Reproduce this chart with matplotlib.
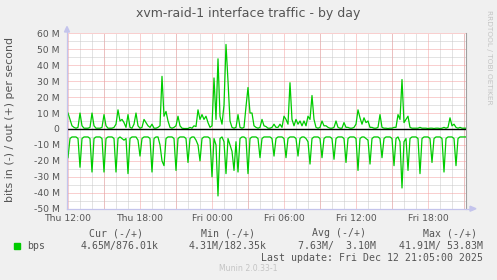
import numpy as np
import pandas as pd
import matplotlib
matplotlib.use("Agg")
import matplotlib.pyplot as plt
import matplotlib.dates as mdates
from matplotlib.ticker import MultipleLocator, FuncFormatter

# ---- data (Mbit/s, 10-minute samples starting Thu 2025-12-11 12:00) ----
start_time = "2025-12-11 12:00"
out_mbps = [
    10, 6, 2, 1, 0.5, 1, 10, 2, 0.5, 0.5,
    0.5, 1, 10, 2, 0.5, 0.5, 0.5, 1, 9, 2,
    0.5, 0.5, 0.5, 1, 3, 12, 5, 6, 4, 1,
    9, 1, 0.5, 3, 10, 2, 0.5, 1, 6, 4,
    2, 1, 3, 0.5, 0.5, 1, 2, 33, 8, 11,
    5, 1, 0.5, 1, 2, 8, 2, 0.5, 0.3, 0.3,
    0.3, 1, 0.5, 2, 1.5, 12, 6, 9, 6, 8,
    4, 1, 2, 32, 6, 44, 8, 3, 15, 53,
    30, 5, 1, 0.5, 1, 9, 1, 0.5, 1, 14,
    26, 10, 10, 2, 1, 0.5, 1, 6, 2, 1.5,
    0.5, 0.5, 1, 3, 1, 1, 3, 1, 8, 6,
    3, 29, 6, 2, 6, 3, 5, 2, 5, 2,
    8, 6, 21, 6, 1, 0.5, 1, 5, 2, 2,
    1, 0.5, 0.5, 1, 5, 1, 0.5, 0.5, 4, 1,
    1, 0.5, 0.5, 1, 3, 12, 7, 3, 7, 4,
    5, 1, 1, 0.5, 0.5, 1, 9, 1, 0.5, 0.5,
    0.3, 0.5, 0.5, 1, 1, 9, 6, 31, 4, 6,
    8, 1, 0.5, 0.5, 0.5, 0.5, 1, 0.5, 0.5, 0.5,
    0.3, 0.5, 0.5, 0.3, 0.5, 0.5, 0.3, 0.5, 1, 0.5,
    1, 7, 2, 3, 1, 0.5, 1, 0.5, 0.5, 0.5,
]
in_mbps = [
    18, 6, 5, 5, 5, 6, 24, 6, 5, 5,
    5, 6, 27, 6, 5, 5, 5, 6, 27, 6,
    5, 5, 5, 6, 27, 6, 5, 6, 7, 6,
    28, 6, 5, 5, 5, 7, 17, 6, 5, 5,
    5, 6, 27, 6, 5, 5, 10, 20, 23, 6,
    5, 5, 5, 6, 26, 6, 5, 5, 5, 6,
    21, 6, 5, 5, 7, 10, 20, 6, 5, 5,
    5, 6, 30, 6, 10, 42, 6, 5, 8, 28,
    6, 10, 14, 26, 8, 27, 6, 5, 5, 6,
    28, 6, 5, 5, 5, 6, 18, 6, 5, 5,
    5, 5, 6, 17, 6, 5, 5, 5, 6, 18,
    6, 5, 5, 5, 6, 17, 6, 5, 5, 6,
    8, 22, 6, 5, 5, 5, 6, 18, 6, 5,
    5, 5, 6, 19, 6, 5, 5, 5, 6, 21,
    6, 5, 5, 5, 6, 26, 6, 5, 5, 6,
    7, 22, 6, 5, 5, 5, 6, 18, 6, 5,
    5, 5, 6, 23, 6, 5, 8, 37, 8, 6,
    26, 6, 5, 5, 5, 6, 28, 6, 5, 5,
    5, 6, 21, 6, 5, 5, 5, 6, 27, 6,
    5, 5, 5, 6, 23, 6, 5, 5, 5, 5,
]
x_tick_labels = ["Thu 12:00", "Thu 18:00", "Fri 00:00", "Fri 06:00", "Fri 12:00", "Fri 18:00"]
title = "xvm-raid-1 interface traffic - by day"
ylabel = "bits in (-) / out (+) per second"
legend_name = "bps"
stat_headers = ["Cur (-/+)", "Min (-/+)", "Avg (-/+)", "Max (-/+)"]
stat_values = ["4.65M/876.01k", "4.31M/182.35k", "7.63M/  3.10M", "41.91M/ 53.83M"]
last_update = "Last update: Fri Dec 12 21:05:00 2025"
munin_ver = "Munin 2.0.33-1"
side_text = "RRDTOOL / TOBI OETIKER"

W, H = 497, 280
BG = "#F0F0F0"
GREEN = "#00CC00"
TXT = "#555555"

times = pd.date_range(start_time, periods=len(out_mbps), freq="10min")
t0 = pd.Timestamp(start_time)

fig = plt.figure(figsize=(W / 100, H / 100), dpi=100, facecolor=BG)

def fx(px):
    return px / W

def fy(py):
    return 1 - py / H

left, right, top, bottom = 67, 466, 33.3, 208.7
ax = fig.add_axes([fx(left), fy(bottom), fx(right - left), (bottom - top) / H])
ax.set_facecolor("white")

xmin = t0 - pd.Timedelta(minutes=5)
xmax = t0 + pd.Timedelta(minutes=int(round(398 / 12 * 60)))
ax.set_xlim(xmin, xmax)
ax.set_ylim(-50, 60)

# grid
dot = (0, (1, 1))
grid_gray = "#c8c8c8"
grid_red = "#f4a0a0"
ax.xaxis.set_major_locator(mdates.HourLocator(byhour=[0, 6, 12, 18]))
ax.xaxis.set_minor_locator(mdates.HourLocator(interval=1))
ax.yaxis.set_major_locator(MultipleLocator(10))
ax.yaxis.set_minor_locator(MultipleLocator(5))
ax.grid(which="minor", color=grid_gray, linestyle=dot, linewidth=0.72)
ax.grid(which="major", axis="y", color=grid_red, linestyle=dot, linewidth=0.72)
red_hours = pd.date_range(xmin.ceil("3h"), xmax, freq="3h")
for h in red_hours:
    ax.axvline(h, color=grid_red, linestyle=dot, linewidth=0.72, zorder=0.8)
ax.set_axisbelow(True)

ax.xaxis.set_major_formatter(FuncFormatter(
    lambda v, p: mdates.num2date(v).strftime("%a %H:%M")))
def yfmt(v, p):
    v = int(round(v))
    return "0" if v == 0 else f"{v} M"
ax.yaxis.set_major_formatter(FuncFormatter(yfmt))
ax.tick_params(which="both", length=0)
ax.tick_params(axis="y", pad=5.4, labelsize=6.7, labelcolor=TXT)
ax.tick_params(axis="x", pad=3.6, labelsize=6.7, labelcolor=TXT)

for s in ["top", "bottom", "left"]:
    ax.spines[s].set_visible(False)
ax.spines["right"].set_color("#a0a0a0")
ax.spines["right"].set_linewidth(0.8)

# data
ax.plot(times, out_mbps, color=GREEN, linewidth=0.9, zorder=3)
ax.plot(times, [-v for v in in_mbps], color=GREEN, linewidth=0.9, zorder=3)
ax.axhline(0, color="black", linewidth=1.0, zorder=4)

# axis lines with arrows (figure coords)
axis_col = "#c4c4ec"
fig.add_artist(plt.Line2D([fx(left), fx(left)], [fy(bottom), fy(30)], color=axis_col, lw=0.9))
fig.add_artist(plt.Line2D([fx(left), fx(472)], [fy(bottom), fy(bottom)], color=axis_col, lw=0.9))
fig.patches.append(matplotlib.patches.Polygon(
    [[fx(64.5), fy(32)], [fx(69.5), fy(32)], [fx(67), fy(26.5)]],
    closed=True, color=axis_col, transform=fig.transFigure))
fig.patches.append(matplotlib.patches.Polygon(
    [[fx(470), fy(bottom - 2.5)], [fx(470), fy(bottom + 2.5)], [fx(476), fy(bottom)]],
    closed=True, color=axis_col, transform=fig.transFigure))

# texts
fig.text(fx(248), fy(13), title, ha="center", va="center", fontsize=9.0, color=TXT)
fig.text(fx(10), fy(119), ylabel, ha="center", va="center", rotation=90, fontsize=7.9, color=TXT)
fig.text(fx(489), fy(57), side_text, ha="center", va="center", rotation=270, fontsize=5.3, color="#c4c4c4")

mono = "DejaVu Sans Mono"
header_centers = [116, 228, 339, 450]
for c, s in zip(header_centers, stat_headers):
    fig.text(fx(c), fy(233.3), s, ha="center", va="center", fontsize=7.1, family=mono, color=TXT)
value_rights = [158.5, 266.7, 375.7, 482.7]
for r, s in zip(value_rights, stat_values):
    fig.text(fx(r), fy(245.7), s, ha="right", va="center", fontsize=7.1, family=mono, color=TXT)
fig.patches.append(matplotlib.patches.Rectangle(
    (fx(14), fy(248.5)), fx(6), 6 / H, color=GREEN, transform=fig.transFigure))
fig.text(fx(27), fy(245.7), legend_name, ha="left", va="center", fontsize=7.1, family=mono, color=TXT)
fig.text(fx(483.3), fy(257.7), last_update, ha="right", va="center", fontsize=7.1, family=mono, color=TXT)
fig.text(fx(248.5), fy(268.5), munin_ver, ha="center", va="center", fontsize=5.6, color="#c4c4c4")

fig.savefig("out.png", dpi=100, facecolor=BG)
